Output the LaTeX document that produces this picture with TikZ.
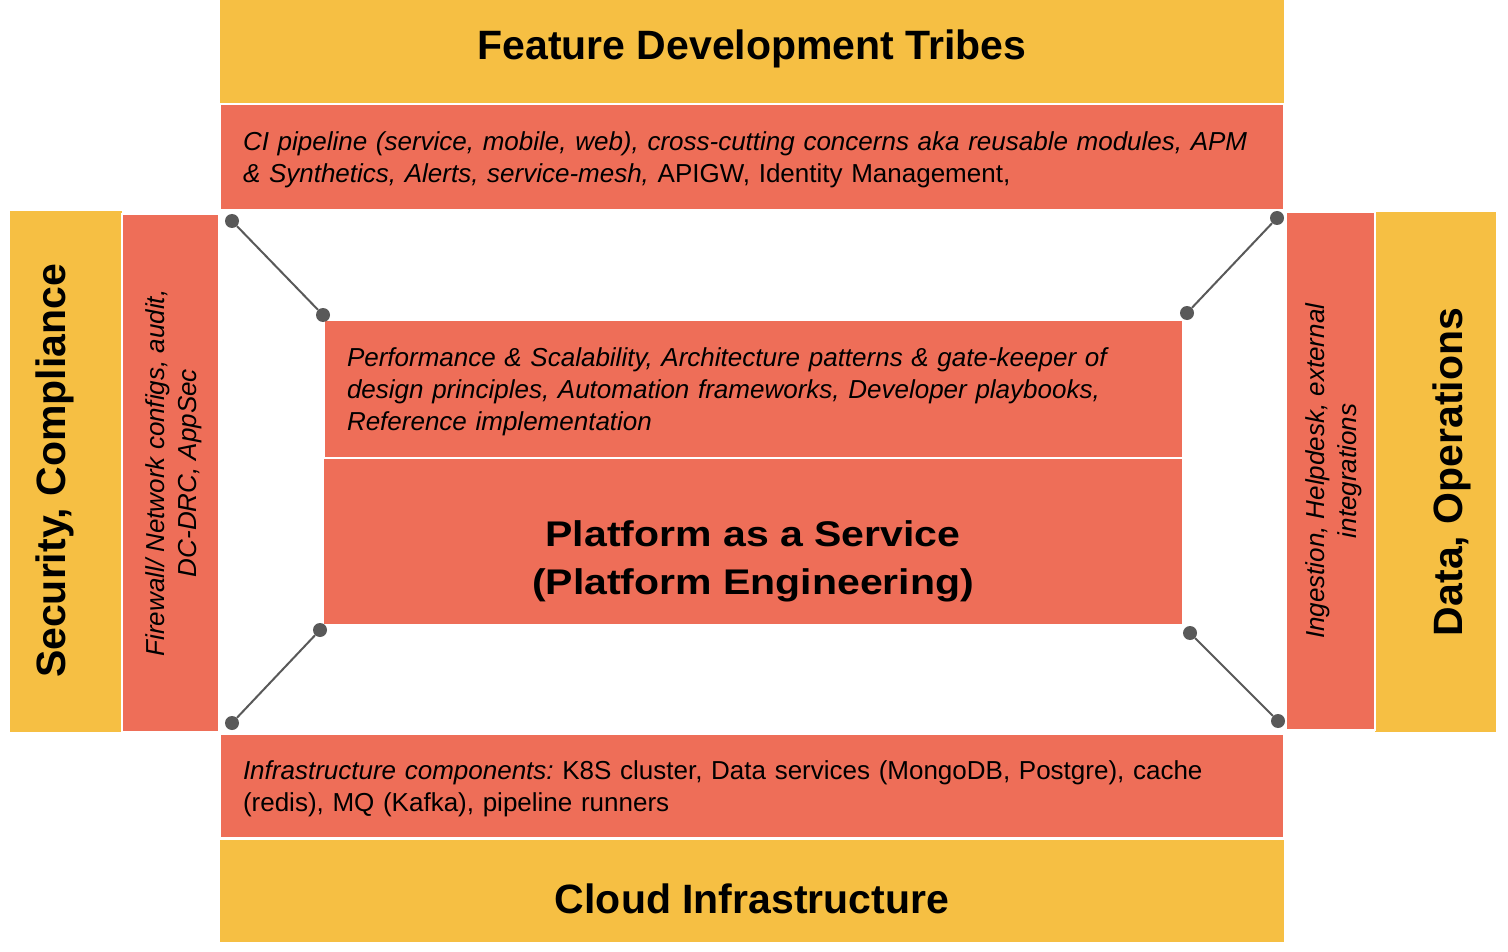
\documentclass[tikz,border=0pt]{standalone}
\usepackage{fontspec}
\setmainfont{Liberation Sans}
\usepackage{xcolor}
\usepackage{tikz}
\usetikzlibrary{calc}
\frenchspacing
\definecolor{sun}{HTML}{F6BF43}
\definecolor{coral}{HTML}{EE6E58}
\definecolor{pin}{HTML}{595959}
\tikzset{
  band/.style={fill=sun, inner sep=0pt},
  layer/.style={fill=coral, draw=white, line width=1.5pt, inner sep=0pt},
  title/.style={font=\bfseries\fontsize{41}{49}\selectfont, align=center, inner sep=0pt},
  body/.style={font=\fontsize{26}{32}\selectfont, inner sep=0pt},
  pt/.style={circle, fill=pin, inner sep=0pt, minimum size=14pt},
  tie/.style={draw=pin, line width=2pt}
}

\begin{document}
\begin{tikzpicture}[x=1pt, y=-1pt]
  % 1 unit = 1 px of the page
  \useasboundingbox (0,0) rectangle (1508,952);

  % outer bands
  \node[band, minimum width=1064pt, minimum height=104pt] (top) at (752,52) {};
  \node[band, minimum width=1064pt, minimum height=102pt] (bottom) at (752,891) {};
  \node[band, rotate=90, minimum width=521pt, minimum height=112pt] (left) at (66,471.5) {};
  \node[band, rotate=90, minimum width=520pt, minimum height=121pt] (right) at (1435.5,472) {};

  \node[title] (topT) at (752,49) {Feature Development Tribes};
  \node[title] (bottomT) at (752,899) {Cloud Infrastructure};
  \node[title, rotate=90] (leftT) at (55,471) {Security, Compliance};
  \node[title, rotate=90] (rightT) at (1452,472) {Data, Operations};

  % coral layers
  \node[layer, minimum width=1064pt, minimum height=106pt] (topL) at (752,157) {};
  \node[layer, minimum width=1064pt, minimum height=104pt] (bottomL) at (752,786) {};
  \node[layer, rotate=90, minimum width=518pt, minimum height=97pt] (leftL) at (170.5,473) {};
  \node[layer, rotate=90, minimum width=518pt, minimum height=89pt] (rightL) at (1330.5,471) {};

  \node[body, text width=1018pt, align=left] (topLT) at ($(topL)+(0,3)$)
    {\textit{CI pipeline (service, mobile, web), cross-cutting concerns aka reusable modules, APM}\\
     \textit{\& Synthetics, Alerts, service-mesh,} APIGW, Identity Management,};
  \node[body, text width=1018pt, align=left] (bottomLT) at ($(bottomL)+(0,3)$)
    {\textit{Infrastructure components:} K8S cluster, Data services (MongoDB, Postgre), cache\\
     (redis), MQ (Kafka), pipeline runners};
  \node[body, rotate=90, align=center] (leftLT) at ($(leftL)+(3,0)$)
    {\textit{Firewall/ Network configs, audit,}\\ \textit{DC-DRC, AppSec}};
  \node[body, rotate=90, align=center] (rightLT) at ($(rightL)+(3,0)$)
    {\textit{Ingestion, Helpdesk, external}\\ \textit{integrations}};

  % platform core
  \node[layer, minimum width=859pt, minimum height=138pt] (guild) at (753.5,389) {};
  \node[body, text width=813pt, align=left] (guildT) at ($(guild)+(0,3)$)
    {\textit{Performance \& Scalability, Architecture patterns \& gate-keeper of}\\
     \textit{design principles, Automation frameworks, Developer playbooks,}\\
     \textit{Reference implementation}};
  \node[layer, minimum width=860pt, minimum height=167pt] (paas) at (753,541.5) {};
  \node[title, font=\bfseries\fontsize{41}{55}\selectfont, yscale=0.87] (paasT) at (753,561)
    {Platform as a Service\\(Platform Engineering)};

  % corner pins
  \node[pt] (p1) at (232,221) {};
  \node[pt] (q1) at (323,315) {};
  \node[pt] (p2) at (1277,218) {};
  \node[pt] (q2) at (1187,313) {};
  \node[pt] (p3) at (232,723) {};
  \node[pt] (q3) at (320,630) {};
  \node[pt] (p4) at (1278,721) {};
  \node[pt] (q4) at (1190,633) {};

  \draw[tie] (p1) -- (q1);
  \draw[tie] (p2) -- (q2);
  \draw[tie] (p3) -- (q3);
  \draw[tie] (p4) -- (q4);
\end{tikzpicture}
\end{document}
